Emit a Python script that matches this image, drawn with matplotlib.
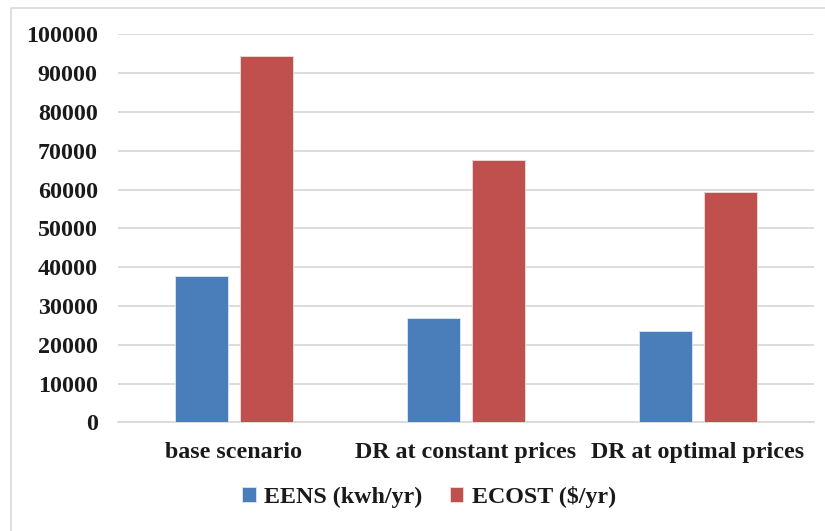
import matplotlib
matplotlib.use("Agg")
import matplotlib.pyplot as plt
from matplotlib.patches import Rectangle
import numpy as np

categories = ["base scenario", "DR at constant prices", "DR at optimal prices"]
eens = [37700, 27000, 23600]
ecost = [94500, 67600, 59400]
series_names = ["EENS (kwh/yr)", "ECOST ($/yr)"]
yticks = [0, 10000, 20000, 30000, 40000, 50000, 60000, 70000, 80000, 90000, 100000]

plt.rcParams["font.family"] = ["Liberation Serif", "DejaVu Serif"]
plt.rcParams["font.weight"] = "bold"

W, H = 825, 531
fig = plt.figure(figsize=(W / 100, H / 100), dpi=100)

# outer chart frame
fig.patches.append(Rectangle((11 / W, -0.05), 1.05, 1.05 - 8 / H, transform=fig.transFigure,
                             fill=False, edgecolor="#d9d9d9", linewidth=1.2))

ax = fig.add_axes([118 / W, 1 - 422.3 / H, (814 - 118) / W, (422.3 - 34.3) / H])

x = np.arange(len(categories))
bw = 0.228
off = 0.141
blue = "#4a7ebb"
red = "#c0504d"
ax.bar(x - off, eens, bw, color=blue, edgecolor="#dce6f2", linewidth=0.6,
       label=series_names[0], zorder=3)
ax.bar(x + off, ecost, bw, color=red, edgecolor="#f2dcdb", linewidth=0.6,
       label=series_names[1], zorder=3)

fs = 17.3
ax.set_xlim(-0.5, len(categories) - 0.5)
ax.set_ylim(0, 100000)
ax.set_yticks(yticks)
ax.set_yticklabels([str(v) for v in yticks], fontsize=fs, fontweight="bold", color="#1a1a1a")
ax.set_xticks(x)
ax.set_xticklabels(categories, fontsize=fs, fontweight="bold", color="#1a1a1a")
ax.tick_params(axis="both", length=0)
ax.tick_params(axis="y", pad=14.5)
ax.tick_params(axis="x", pad=14)
ax.yaxis.grid(True, color="#d9d9d9", linewidth=1.3, zorder=0)
ax.set_axisbelow(True)
for s in ["top", "right", "left"]:
    ax.spines[s].set_visible(False)
ax.spines["bottom"].set_color("#d9d9d9")
ax.spines["bottom"].set_linewidth(1.3)

fig.legend(loc="center", bbox_to_anchor=(429 / W, 1 - 497 / H), ncol=2, frameon=False,
           prop={"size": fs, "weight": "bold"}, handlelength=0.55, handleheight=0.55,
           handletextpad=0.35, columnspacing=1.15, labelcolor="#1a1a1a")

fig.savefig("out.png", dpi=100)
